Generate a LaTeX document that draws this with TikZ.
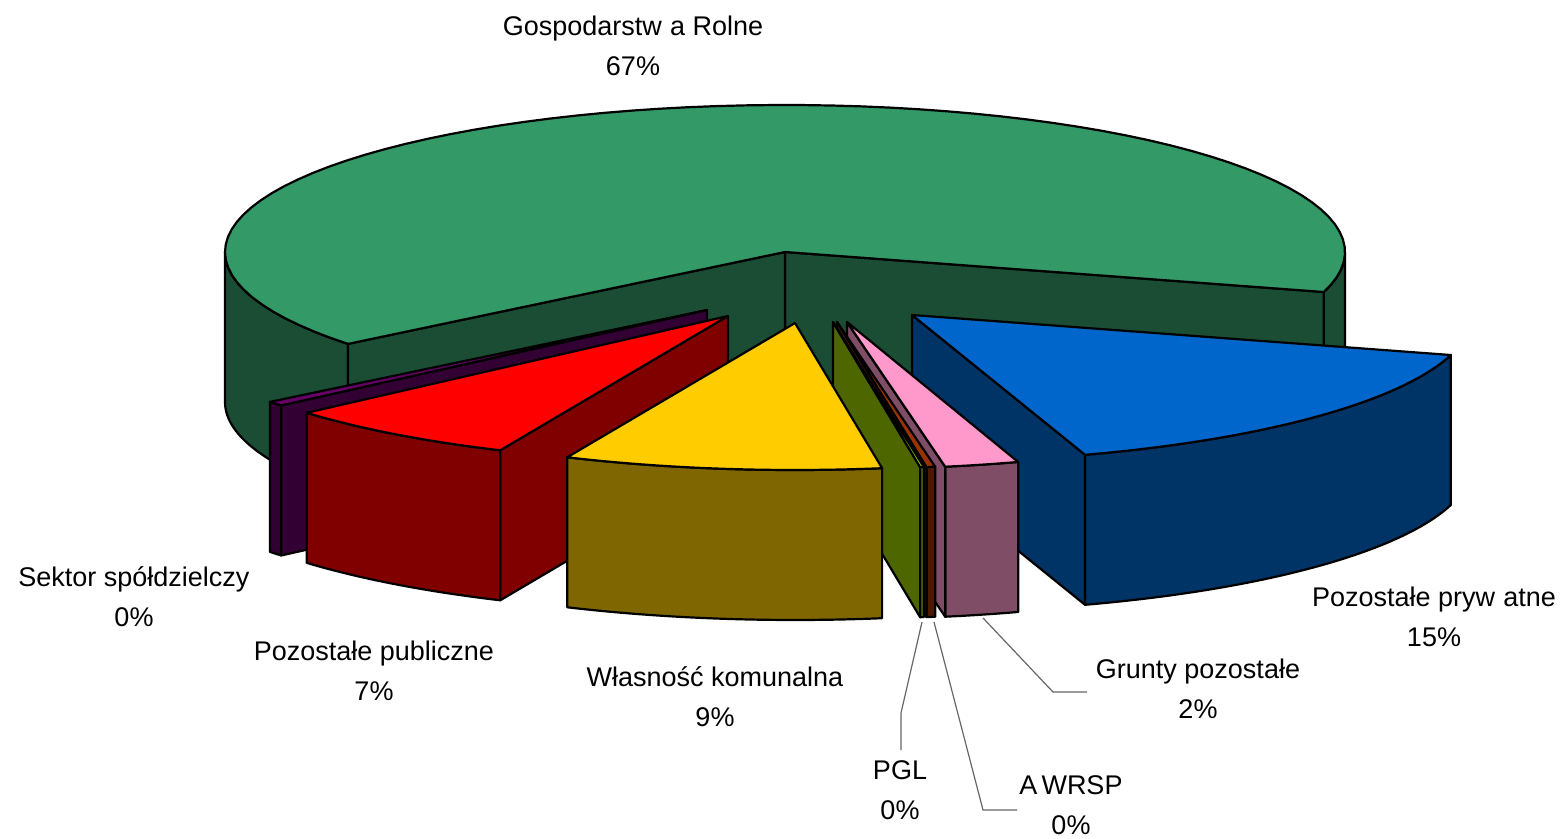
\documentclass[tikz,border=0pt]{standalone}
\usepackage{fontspec}
\setmainfont{Liberation Sans}
\definecolor{gtop}{HTML}{339966}
\definecolor{gside}{HTML}{1A4D33}
\definecolor{btop}{HTML}{0066CC}
\definecolor{bside}{HTML}{003366}
\definecolor{ptop}{HTML}{FF99CC}
\definecolor{pside}{HTML}{804D66}
\definecolor{atop}{HTML}{993300}
\definecolor{aside}{HTML}{4D1A00}
\definecolor{ltop}{HTML}{99CC00}
\definecolor{lside}{HTML}{4D6600}
\definecolor{vtop}{HTML}{660066}
\definecolor{vside}{HTML}{330033}
\definecolor{rtop}{HTML}{FF0000}
\definecolor{rside}{HTML}{800000}
\definecolor{ytop}{HTML}{FFCC00}
\definecolor{yside}{HTML}{806600}
% wall: cx, cy, t1, t2, colour
\newcommand{\slicewall}[5]{%
  \filldraw[pieline,fill=#5] plot[domain=#3:#4,samples=60] ({#1+560*cos(\x)},{#2-147*sin(\x)})
    -- plot[domain=#4:#3,samples=60] ({#1+560*cos(\x)},{#2+150-147*sin(\x)}) -- cycle;}
% cut face: cx, cy, t, colour
\newcommand{\sliceface}[4]{%
  \filldraw[pieline,fill=#4] (#1,#2) -- ({#1+560*cos(#3)},{#2-147*sin(#3)})
    -- ({#1+560*cos(#3)},{#2+150-147*sin(#3)}) -- (#1,{#2+150}) -- cycle;}
% top: cx, cy, t1, t2, colour
\newcommand{\slicetop}[5]{%
  \filldraw[pieline,fill=#5] (#1,#2) -- plot[domain=#3:#4,samples=80] ({#1+560*cos(\x)},{#2-147*sin(\x)}) -- cycle;}
\begin{document}
\begin{tikzpicture}[x=0.5pt,y=-0.5pt,
  pieline/.style={draw=black,line width=1.1pt,line join=round},
  lbl/.style={align=center,font=\fontsize{13.5}{20}\selectfont,inner sep=1pt},
  leader/.style={draw=black!60,line width=0.6pt}]
\useasboundingbox (0,0) rectangle (1565,839);
% Gospodarstwa Rolne (green)
\slicewall{785}{252}{344.2}{360}{gside}
\slicewall{785}{252}{180}{218.7}{gside}
\sliceface{785}{252}{344.2}{gside}
\sliceface{785}{252}{218.7}{gside}
\slicetop{785}{252}{344.2}{578.7}{gtop}
% Pozostale prywatne (blue)
\slicewall{912}{315}{288.0}{344.2}{bside}
\sliceface{912}{315}{288.0}{bside}
\slicetop{912}{315}{288.0}{344.2}{btop}
% Grunty pozostale (pink)
\slicewall{847}{322}{280.1}{287.8}{pside}
\sliceface{847}{322}{280.1}{pside}
\slicetop{847}{322}{280.1}{287.8}{ptop}
% AWRSP
\slicewall{837}{322}{279.2}{280.1}{aside}
\sliceface{837}{322}{279.2}{aside}
\slicetop{837}{322}{279.2}{280.1}{atop}
% PGL
\slicewall{833}{322}{278.95}{279.35}{lside}
\sliceface{833}{322}{278.95}{lside}
\slicetop{833}{322}{278.95}{279.35}{ltop}
% Sektor spoldzielczy (purple)
\slicewall{707}{310}{218.7}{220.5}{vside}
\sliceface{707}{310}{220.5}{vside}
\slicetop{707}{310}{218.7}{220.5}{vtop}
% Pozostale publiczne (red)
\slicewall{728}{316}{221.2}{246}{rside}
\sliceface{728}{316}{246}{rside}
\slicetop{728}{316}{221.2}{246}{rtop}
% Wlasnosc komunalna (yellow)
\slicewall{795}{323}{246}{278.95}{yside}
\slicetop{795}{323}{246}{278.95}{ytop}
% labels
\node[lbl] (gosp) at (633,46) {Gospodarstw\hspace{0.3em}a Rolne\\67\%};
\node[lbl] (sekt) at (134,597) {Sektor spółdzielczy\\0\%};
\node[lbl] (publ) at (374,671) {Pozostałe publiczne\\7\%};
\node[lbl] (komu) at (715,697) {Własność komunalna\\9\%};
\node[lbl] (pgl) at (900,790) {PGL\\0\%};
\node[lbl] (awrsp) at (1071,805) {A\hspace{0.15em}WRSP\\0\%};
\node[lbl] (grun) at (1198,689) {Grunty pozostałe\\2\%};
\node[lbl] (pryw) at (1434,617) {Pozostałe pryw\hspace{0.3em}atne\\15\%};
% leader lines
\coordinate (pglA) at (922,622);
\coordinate (pglB) at (901,713);
\coordinate (pglC) at (901,750);
\coordinate (awA) at (934,622);
\coordinate (awB) at (983,810);
\coordinate (awC) at (1017,810);
\coordinate (grA) at (983,618);
\coordinate (grB) at (1053,692);
\coordinate (grC) at (1087,692);
\draw[leader] (pglA) -- (pglB) -- (pglC);
\draw[leader] (awA) -- (awB) -- (awC);
\draw[leader] (grA) -- (grB) -- (grC);
\end{tikzpicture}
\end{document}
